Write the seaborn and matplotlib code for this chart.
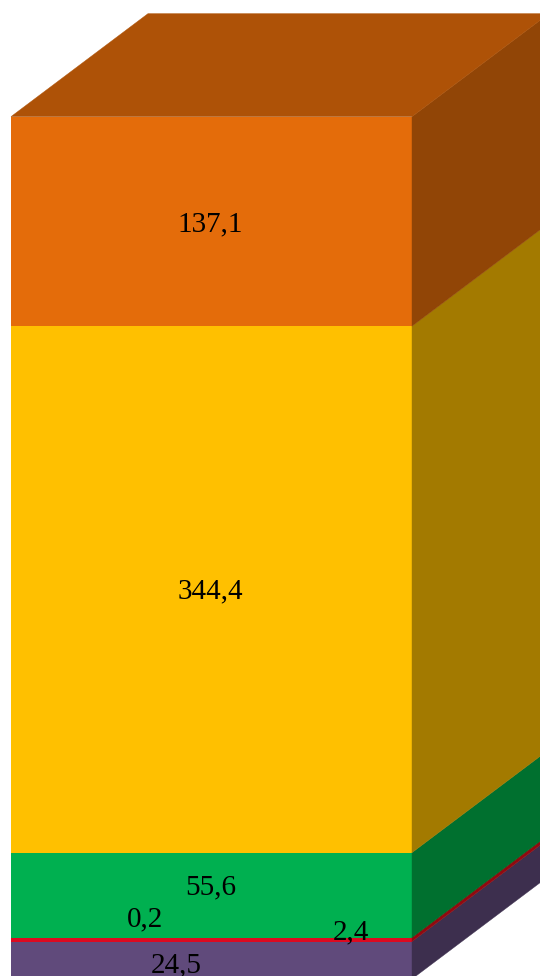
import matplotlib
matplotlib.use("Agg")
import matplotlib.pyplot as plt
from matplotlib.patches import Polygon
import seaborn as sns
import pandas as pd
import numpy as np

plt.rcParams["font.family"] = ["Liberation Serif"]

# bottom to top
values = [24.5, 2.4, 0.2, 55.6, 344.4, 137.1]
labels = ["24,5", "2,4", "0,2", "55,6", "344,4", "137,1"]
front = ["#604a7b", "#dc0a20", "#ff0000", "#00b050", "#ffc000", "#e46c0a"]
side = ["#3d2f4e", "#900a10", "#a20000", "#00702f", "#a37a00", "#914506"]
top_col = "#ae5207"

W, H = 540, 976
scale = 1.5285   # px per unit
left, right = 11, 412
base_y = 979
dx, dy = 137, 103

df = pd.DataFrame({"cat": ["a"] * len(values), "val": values, "seg": labels})
bottoms = np.concatenate([[0], np.cumsum(values)[:-1]])

fig = plt.figure(figsize=(W / 100, H / 100), dpi=100)
ax = fig.add_axes([0, 0, 1, 1])

# front faces, one seaborn bar per segment
for i in range(len(values)):
    sns.barplot(data=df.iloc[[i]], x="cat", y="val", bottom=bottoms[i], color=front[i],
                saturation=1, width=1, ax=ax, linewidth=0)

total = bottoms[-1] + values[-1]
unit_w = 1 / (right - left)
ax.set_xlim(-0.5 - left * unit_w, -0.5 + (W - left) * unit_w)
ax.set_ylim((base_y - H) / scale, base_y / scale)
ax.axis("off")

xr = 0.5
ddx = dx * unit_w
ddy = dy / scale

# side faces
for i in range(len(values)):
    y0, y1 = bottoms[i], bottoms[i] + values[i]
    ax.add_patch(Polygon([(xr, y0), (xr + ddx, y0 + ddy), (xr + ddx, y1 + ddy), (xr, y1)],
                         closed=True, fc=side[i], ec=side[i], lw=0.3))

# top face
ax.add_patch(Polygon([(-0.5, total), (-0.5 + ddx, total + ddy), (xr + ddx, total + ddy), (xr, total)],
                     closed=True, fc=top_col, ec=top_col, lw=0.3))

# labels: offsets in px from the segment centre
offsets = {"24,5": (-35, -5), "2,4": (139, 7), "0,2": (-66, 18), "55,6": (-1, 8), "344,4": (-1, -1.6), "137,1": (-1, -2.6)}
for i, lab in enumerate(labels):
    ox, oy = offsets[lab]
    ax.text(0 + ox * unit_w, bottoms[i] + values[i] / 2 + oy / scale, lab, ha="center", va="center",
            fontsize=21, color="black", clip_on=True)

fig.savefig("out.png", dpi=100)
